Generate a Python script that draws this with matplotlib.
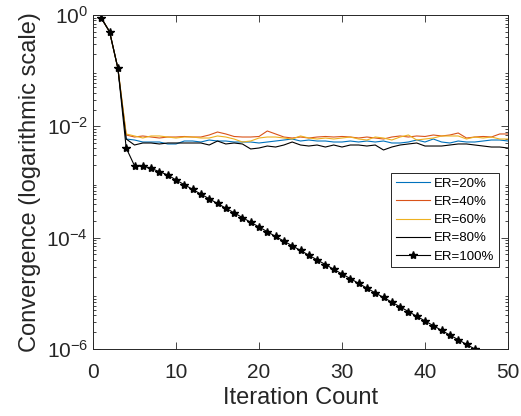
import matplotlib
matplotlib.use("Agg")
import matplotlib.pyplot as plt
from matplotlib.ticker import LogLocator, NullFormatter

plt.rcParams['font.family'] = ['Liberation Sans', 'DejaVu Sans']
plt.rcParams['mathtext.fontset'] = 'custom'
plt.rcParams['mathtext.rm'] = 'Liberation Sans'

labels = ["ER=20%", "ER=40%", "ER=60%", "ER=80%", "ER=100%"]
colors = ["#0072BD", "#D95319", "#EDB120", "#000000", "#000000"]

iters = list(range(1, 51))
head = [0.88, 0.50, 0.110]

er20 = head + [5.92e-3, 5.68e-3, 5.23e-3, 5.23e-3, 5.23e-3, 4.82e-3, 4.82e-3, 5.45e-3, 5.45e-3, 5.23e-3,
               5.68e-3, 5.45e-3, 5.45e-3, 5.23e-3, 5.23e-3, 5.23e-3, 5.02e-3, 5.23e-3, 5.45e-3, 5.68e-3,
               5.92e-3, 5.45e-3, 5.68e-3, 5.45e-3, 5.45e-3, 5.23e-3, 5.23e-3, 5.45e-3, 5.23e-3, 5.45e-3,
               5.23e-3, 5.45e-3, 5.02e-3, 5.02e-3, 5.23e-3, 5.68e-3, 5.23e-3, 5.92e-3, 5.23e-3, 5.02e-3,
               5.45e-3, 5.23e-3, 5.23e-3, 5.45e-3, 5.68e-3, 5.68e-3, 5.45e-3]
er40 = head + [6.99e-3, 6.43e-3, 6.71e-3, 6.43e-3, 6.17e-3, 6.43e-3, 6.43e-3, 6.57e-3, 6.43e-3, 6.43e-3,
               6.99e-3, 7.91e-3, 7.29e-3, 6.57e-3, 6.43e-3, 6.43e-3, 6.57e-3, 8.25e-3, 7.29e-3, 6.43e-3,
               6.17e-3, 6.43e-3, 6.17e-3, 6.43e-3, 6.57e-3, 6.43e-3, 6.57e-3, 6.43e-3, 6.17e-3, 6.43e-3,
               6.17e-3, 5.92e-3, 6.43e-3, 6.71e-3, 6.43e-3, 6.71e-3, 6.57e-3, 6.99e-3, 6.71e-3, 6.99e-3,
               7.59e-3, 6.17e-3, 6.43e-3, 6.57e-3, 6.43e-3, 7.29e-3, 7.29e-3]
er60 = head + [7.29e-3, 6.71e-3, 6.17e-3, 6.71e-3, 6.71e-3, 6.43e-3, 6.17e-3, 6.43e-3, 6.43e-3, 6.17e-3,
               6.17e-3, 6.71e-3, 6.43e-3, 5.92e-3, 5.23e-3, 5.45e-3, 6.17e-3, 6.43e-3, 6.43e-3, 6.17e-3,
               5.92e-3, 6.71e-3, 6.17e-3, 5.92e-3, 6.17e-3, 5.92e-3, 6.17e-3, 6.43e-3, 5.92e-3, 5.68e-3,
               6.43e-3, 6.17e-3, 5.68e-3, 6.43e-3, 6.99e-3, 5.68e-3, 5.92e-3, 6.17e-3, 6.71e-3, 6.71e-3,
               6.71e-3, 5.92e-3, 6.43e-3, 6.17e-3, 6.43e-3, 5.92e-3, 5.92e-3]
er80 = head + [5.92e-3, 4.62e-3, 5.02e-3, 5.02e-3, 4.82e-3, 5.02e-3, 5.02e-3, 5.02e-3, 5.02e-3, 5.02e-3,
               4.62e-3, 5.45e-3, 4.82e-3, 5.02e-3, 4.82e-3, 3.92e-3, 4.08e-3, 4.43e-3, 4.25e-3, 4.62e-3,
               5.23e-3, 4.62e-3, 4.43e-3, 4.62e-3, 4.25e-3, 4.62e-3, 4.25e-3, 4.62e-3, 4.62e-3, 4.43e-3,
               4.62e-3, 3.76e-3, 4.25e-3, 4.62e-3, 4.82e-3, 5.02e-3, 4.43e-3, 4.43e-3, 4.43e-3, 4.62e-3,
               4.82e-3, 4.82e-3, 4.62e-3, 4.43e-3, 4.25e-3, 4.25e-3, 4.08e-3]
iters100 = list(range(1, 47))
er100 = head + [4.08e-3, 1.96e-3, 1.92e-3, 1.76e-3, 1.53e-3, 1.34e-3, 1.087e-3, 8.95e-4, 7.37e-4, 6.07e-4,
                4.99e-4, 4.11e-4, 3.39e-4, 2.79e-4, 2.30e-4, 1.89e-4, 1.56e-4, 1.28e-4, 1.05e-4, 8.69e-5,
                7.15e-5, 5.89e-5, 4.85e-5, 3.99e-5, 3.29e-5, 2.71e-5, 2.23e-5, 1.84e-5, 1.51e-5, 1.24e-5,
                1.02e-5, 8.44e-6, 6.95e-6, 5.72e-6, 4.71e-6, 3.88e-6, 3.19e-6, 2.63e-6, 2.16e-6, 1.78e-6,
                1.47e-6, 1.21e-6, 1.0e-6]

xticks = [0, 10, 20, 30, 40, 50]
yticks = [1e-6, 1e-4, 1e-2, 1e0]
ytick_labels = [r'$\mathregular{10^{-6}}$', r'$\mathregular{10^{-4}}$',
                r'$\mathregular{10^{-2}}$', r'$\mathregular{10^{0}}$']

fig = plt.figure(figsize=(5.21, 4.16), dpi=100)
ax = fig.add_axes([93/521, 67/416, 415/521, 334/416])

series = [er20, er40, er60, er80]
for vals, lab, col in zip(series, labels[:4], colors[:4]):
    ax.plot(iters, vals, color=col, lw=0.8, label=lab)
ax.plot(iters100, er100, color='black', lw=0.8, marker='*', markersize=6,
        label=labels[4])

ax.set_yscale('log')
ax.set_xlim(0, 50)
ax.set_ylim(1e-6, 1)
ax.set_xticks(xticks)
ax.set_xticklabels([str(t) for t in xticks])
ax.set_yticks(yticks)
ax.set_yticklabels(ytick_labels)
ax.yaxis.set_minor_locator(LogLocator(base=10, subs=range(2, 10), numticks=20))
ax.yaxis.set_minor_formatter(NullFormatter())

edge = '#262626'
for s in ax.spines.values():
    s.set_color(edge)
    s.set_linewidth(0.7)
ax.tick_params(which='both', direction='in', top=True, right=True, colors=edge,
               labelcolor='#262626', labelsize=15, width=0.6)
ax.tick_params(which='major', length=5)
ax.tick_params(which='minor', length=2.5)
ax.tick_params(axis='x', pad=10)

ax.set_xlabel('Iteration Count', fontsize=17, color='#262626', labelpad=4)
ax.set_ylabel('Convergence (logarithmic scale)', fontsize=17, color='#262626', labelpad=4)

leg = ax.legend(loc='upper right', bbox_to_anchor=(0.978, 0.527), fontsize=9.5,
                fancybox=False, framealpha=1, edgecolor=edge, handlelength=2.6,
                borderpad=0.35, labelspacing=0.45, handletextpad=0.3, borderaxespad=0)
leg.get_frame().set_linewidth(0.7)

fig.savefig('out.png', dpi=100)
